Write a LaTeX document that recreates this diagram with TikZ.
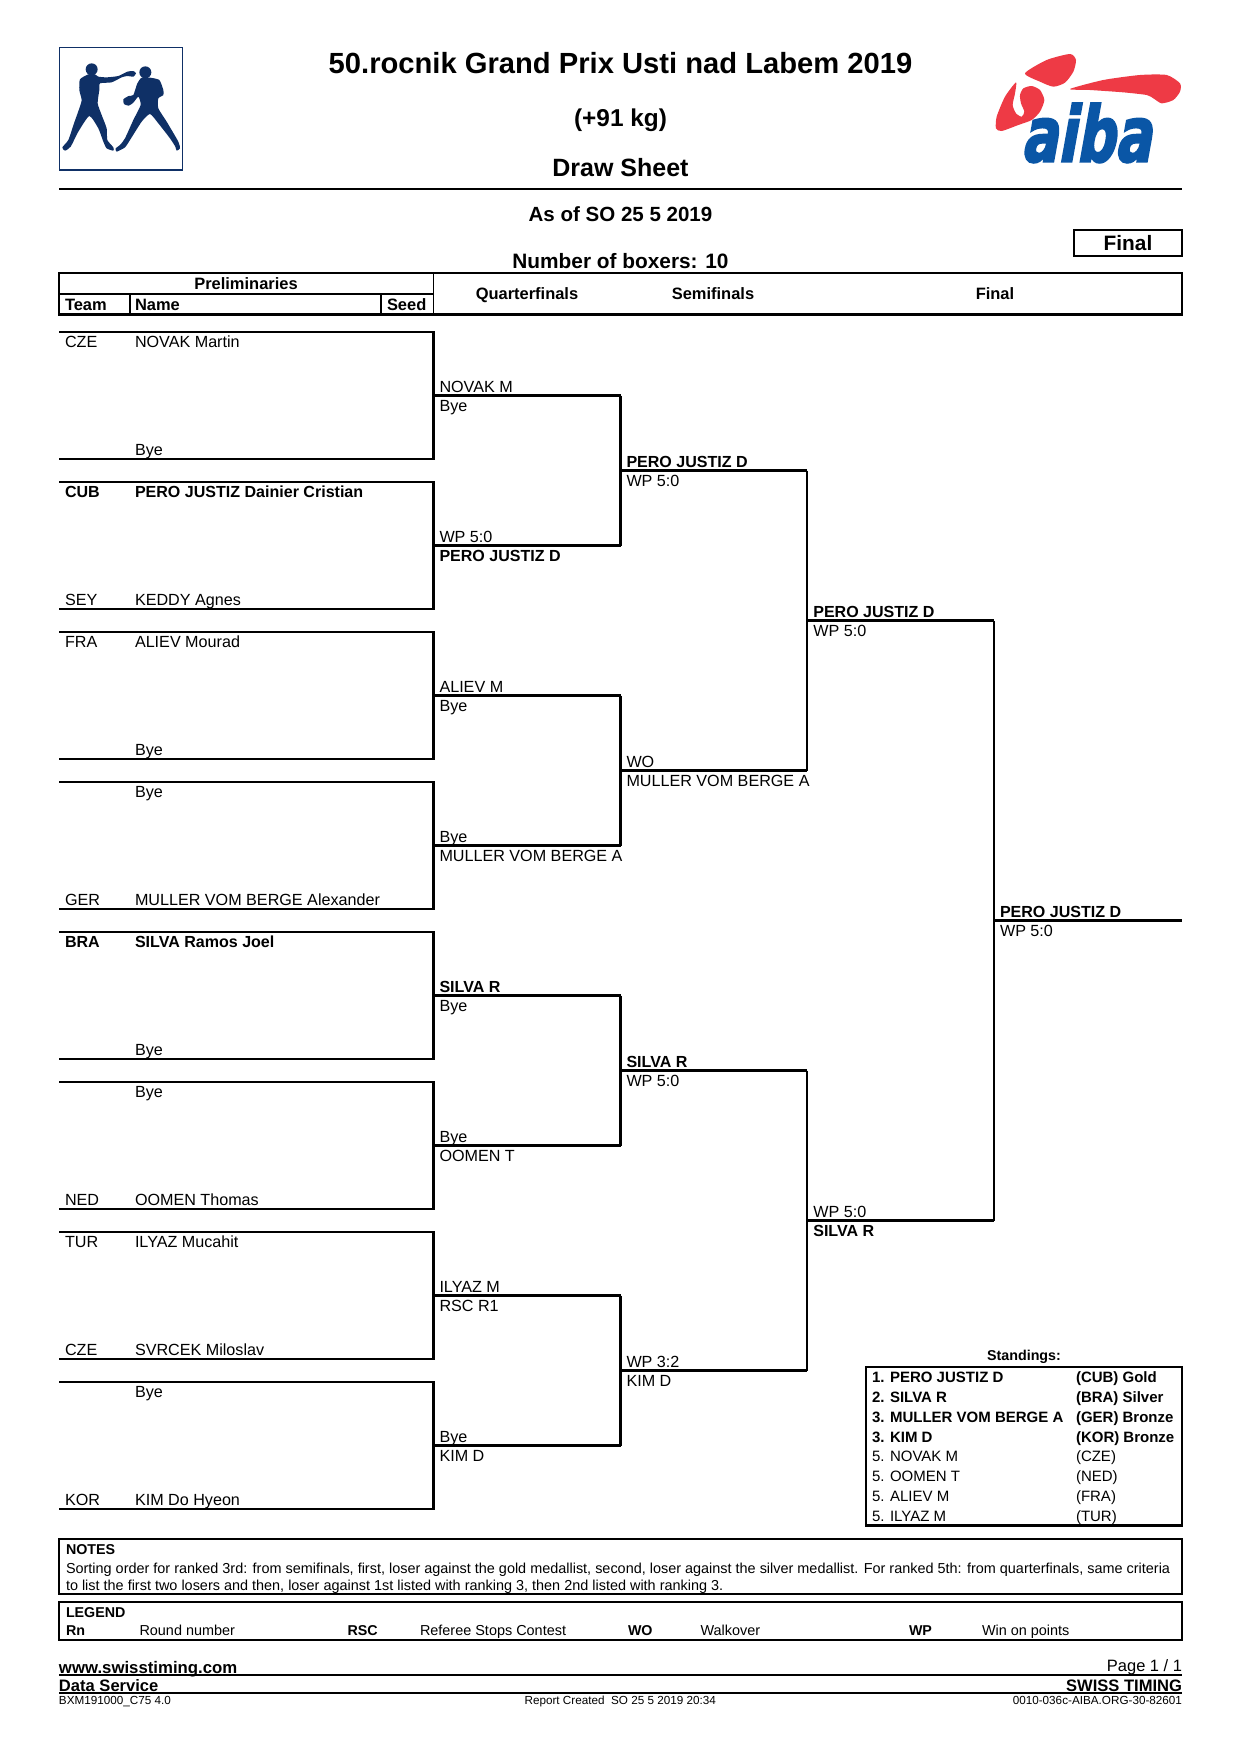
\documentclass[tikz,border=0pt]{standalone}
\usepackage{fontspec}
\setmainfont{Liberation Sans}
\newfontfamily\aibafont[FakeSlant=0.18,FakeStretch=0.70,FakeBold=2.5]{DejaVu Sans}
\usetikzlibrary{positioning}
\definecolor{navy}{HTML}{0F3066}
\definecolor{aibared}{HTML}{EE3A45}
\definecolor{aibablue}{HTML}{0A56A6}
\tikzset{
  lab/.style={inner sep=0pt,outer sep=0pt,anchor=base west,font=\fontsize{7.75}{9}\selectfont},
  labb/.style={lab,font=\fontsize{7.7}{9}\selectfont\bfseries},
  hdr/.style={inner sep=0pt,outer sep=0pt,anchor=base,font=\fontsize{7.9}{10}\selectfont\bfseries},
  hdl/.style={hdr,anchor=base west},
  ttl/.style={inner sep=0pt,outer sep=0pt,anchor=base,font=\fontsize{14}{16}\selectfont\bfseries},
  sub/.style={inner sep=0pt,outer sep=0pt,anchor=base,font=\fontsize{11}{13}\selectfont\bfseries},
  sml/.style={lab,font=\fontsize{6.93}{8}\selectfont},
  smb/.style={lab,font=\fontsize{6.85}{8}\selectfont\bfseries},
  tin/.style={lab,font=\fontsize{5.62}{7}\selectfont},
  bracket/.style={draw=black,line width=1pt,line join=miter},
  frame/.style={draw=black,line width=1.1pt},
  thin/.style={draw=black,line width=0.8pt},
}
\begin{document}
\begin{tikzpicture}[x=0.48pt,y=-0.48pt]
\useasboundingbox (0,0) rectangle (1240,1754);
\fill[white] (0,0) rectangle (1240,1754);

% logo, boxers
\begin{scope}[shift={(50,40)},x=0.16pt,y=-0.16pt]
  \draw[draw=navy,line width=0.6pt] (28,22) rectangle (397,390);
  \fill[navy] (125,88) circle[radius=18];
  \fill[navy] (286,97) circle[radius=18];
  \fill[navy,line join=round] plot[smooth cycle,tension=0.35] coordinates {
    (115,103) (90,118) (88,150) (95,180) (88,205) (72,250) (55,300) (37,322) (45,332)
    (62,320) (85,275) (118,228) (145,265) (160,305) (170,325) (190,332) (190,322)
    (172,300) (170,265) (155,225) (143,190) (148,150) (150,130) (185,127) (215,112)
    (232,108) (250,110) (258,100) (250,93) (232,95) (205,108) (170,112) (145,110) (135,103)};
  \fill[navy] plot[smooth cycle,tension=0.35] coordinates {
    (275,113) (262,130) (250,165) (236,168) (220,178) (222,192) (236,197) (250,188) (265,170)
    (272,195) (250,240) (225,295) (210,315) (197,325) (200,335) (225,322) (240,300)
    (275,245) (300,222) (325,250) (360,295) (376,320) (380,332) (390,325) (385,305)
    (350,245) (325,205) (325,175) (340,165) (340,150) (328,120) (300,113)};
\end{scope}

% logo, aiba
\begin{scope}[shift={(990,45)},x=0.16pt,y=-0.16pt]
  \fill[aibared] plot[smooth cycle,tension=0.4] coordinates {
    (105,85) (170,45) (240,27) (258,45) (250,80) (225,113) (190,125) (150,110)};
  \fill[aibared] plot[smooth cycle,tension=0.4] coordinates {
    (240,132) (340,105) (450,90) (530,90) (570,115) (570,140) (550,165) (515,175)
    (490,160) (470,150) (400,142) (300,135)};
  \fill[aibared] plot[smooth cycle,tension=0.4] coordinates {
    (78,112) (45,155) (20,215) (18,250) (35,258) (85,240) (125,225) (150,200) (163,165)
    (150,135) (125,123) (100,130) (90,150) (93,175) (103,200) (95,215) (78,205) (68,180) (75,145)};
  \node[inner sep=0pt,anchor=base west,text=aibablue,font=\aibafont\bfseries\fontsize{37}{40}\selectfont] (aiba) at (92,350) {aiba};
\end{scope}

% heading
\node[ttl] (title) at (620.5,73.5) {50.rocnik Grand Prix Usti nad Labem 2019};
\node[sub,font=\fontsize{11.7}{13}\selectfont\bfseries] (weight) at (620.5,126.5) {(+91 kg)};
\node[sub,font=\fontsize{12}{14}\selectfont\bfseries] (sheet) at (620.5,176.5) {Draw Sheet};
\coordinate (hl) at (59,189); \coordinate (hr) at (1182,189);
\draw[line width=0.9pt] (hl) -- (hr);
\node[sub,font=\fontsize{9.85}{12}\selectfont\bfseries] (asof) at (620.5,221) {As of SO 25 5 2019};
\node[sub,font=\fontsize{10}{12}\selectfont\bfseries] (number) at (620.5,268.5) {Number of boxers: 10};
\node[sub,font=\fontsize{10}{12}\selectfont\bfseries] (finalbox) at (1128,250) {Final};
\draw[frame] (1074,230) rectangle (1182,256);

% table head
\draw[frame] (59,273.3) rectangle (1182,314.6);
\draw[thin] (59,294) -- (433.5,294);
\draw[thin] (130,294) -- (130,314.6);
\draw[thin] (381,294) -- (381,314.6);
\draw[thin] (433.5,273.3) -- (433.5,314.6);
\node[hdr] (hprelim) at (246,289) {Preliminaries};
\node[hdl] (hteam) at (65,310) {Team};
\node[hdl] (hname) at (135,310) {Name};
\node[hdl] (hseed) at (387,310) {Seed};
\node[hdr] (hqf) at (527,299) {Quarterfinals};
\node[hdr] (hsf) at (713,299) {Semifinals};
\node[hdr] (hf) at (995,299) {Final};

% named points of the bracket
\foreach \i in {1,...,8} {
  \pgfmathsetmacro\yy{332+(\i-1)*150}
  \pgfmathsetmacro\yb{\yy+127}
  \pgfmathsetmacro\ym{\yy+63.5}
  \coordinate (pa\i) at (59,\yy);
  \coordinate (pb\i) at (59,\yb);
  \coordinate (xa\i) at (433.5,\yy);
  \coordinate (xb\i) at (433.5,\yb);
  \coordinate (qs\i) at (433.5,\ym);
  \coordinate (qe\i) at (620.5,\ym);
  \draw[bracket] (pa\i) -- (xa\i) -- (xb\i) -- (pb\i);
  \draw[bracket] (qs\i) -- (qe\i);
}
\foreach \i/\y in {1/470.5,2/770.5,3/1070.5,4/1370.5} {
  \coordinate (ss\i) at (620.5,\y);
  \coordinate (se\i) at (807.3,\y);
  \draw[bracket] (ss\i) -- (se\i);
}
\draw[bracket] (qe1) -- (qe2);
\draw[bracket] (qe3) -- (qe4);
\draw[bracket] (qe5) -- (qe6);
\draw[bracket] (qe7) -- (qe8);
\coordinate (fs1) at (807.3,620.5); \coordinate (fe1) at (994,620.5);
\coordinate (fs2) at (807.3,1220.5);  \coordinate (fe2) at (994,1220.5);
\draw[bracket] (fs1) -- (fe1);
\draw[bracket] (fs2) -- (fe2);
\draw[bracket] (se1) -- (se2);
\draw[bracket] (se3) -- (se4);
\draw[bracket] (fe1) -- (fe2);
\coordinate (cs) at (994,920.5); \coordinate (ce) at (1182,920.5);
\draw[bracket] (cs) -- (ce);

% preliminaries
\node[lab]  (t1a) at ([shift={(6,15.5)}]pa1) {CZE};
\node[lab]  (n1a) at ([shift={(76,15.5)}]pa1) {NOVAK Martin};
\node[lab]  (n1b) at ([shift={(76,-3.5)}]pb1) {Bye};
\node[labb] (t2a) at ([shift={(6,15.5)}]pa2) {CUB};
\node[labb] (n2a) at ([shift={(76,15.5)}]pa2) {PERO JUSTIZ Dainier Cristian};
\node[lab]  (t2b) at ([shift={(6,-3.5)}]pb2) {SEY};
\node[lab]  (n2b) at ([shift={(76,-3.5)}]pb2) {KEDDY Agnes};
\node[lab]  (t3a) at ([shift={(6,15.5)}]pa3) {FRA};
\node[lab]  (n3a) at ([shift={(76,15.5)}]pa3) {ALIEV Mourad};
\node[lab]  (n3b) at ([shift={(76,-3.5)}]pb3) {Bye};
\node[lab]  (n4a) at ([shift={(76,15.5)}]pa4) {Bye};
\node[lab]  (t4b) at ([shift={(6,-3.5)}]pb4) {GER};
\node[lab]  (n4b) at ([shift={(76,-3.5)}]pb4) {MULLER VOM BERGE Alexander};
\node[labb] (t5a) at ([shift={(6,15.5)}]pa5) {BRA};
\node[labb] (n5a) at ([shift={(76,15.5)}]pa5) {SILVA Ramos Joel};
\node[lab]  (n5b) at ([shift={(76,-3.5)}]pb5) {Bye};
\node[lab]  (n6a) at ([shift={(76,15.5)}]pa6) {Bye};
\node[lab]  (t6b) at ([shift={(6,-3.5)}]pb6) {NED};
\node[lab]  (n6b) at ([shift={(76,-3.5)}]pb6) {OOMEN Thomas};
\node[lab]  (t7a) at ([shift={(6,15.5)}]pa7) {TUR};
\node[lab]  (n7a) at ([shift={(76,15.5)}]pa7) {ILYAZ Mucahit};
\node[lab]  (t7b) at ([shift={(6,-3.5)}]pb7) {CZE};
\node[lab]  (n7b) at ([shift={(76,-3.5)}]pb7) {SVRCEK Miloslav};
\node[lab]  (n8a) at ([shift={(76,15.5)}]pa8) {Bye};
\node[lab]  (t8b) at ([shift={(6,-3.5)}]pb8) {KOR};
\node[lab]  (n8b) at ([shift={(76,-3.5)}]pb8) {KIM Do Hyeon};

% quarterfinals
\node[lab]  (q1a) at ([shift={(6,-3)}]qs1) {NOVAK M};
\node[lab]  (q1b) at ([shift={(6,16)}]qs1) {Bye};
\node[lab]  (q2a) at ([shift={(6,-3)}]qs2) {WP 5:0};
\node[labb] (q2b) at ([shift={(6,16)}]qs2) {PERO JUSTIZ D};
\node[lab]  (q3a) at ([shift={(6,-3)}]qs3) {ALIEV M};
\node[lab]  (q3b) at ([shift={(6,16)}]qs3) {Bye};
\node[lab]  (q4a) at ([shift={(6,-3)}]qs4) {Bye};
\node[lab]  (q4b) at ([shift={(6,16)}]qs4) {MULLER VOM BERGE A};
\node[labb] (q5a) at ([shift={(6,-3)}]qs5) {SILVA R};
\node[lab]  (q5b) at ([shift={(6,16)}]qs5) {Bye};
\node[lab]  (q6a) at ([shift={(6,-3)}]qs6) {Bye};
\node[lab]  (q6b) at ([shift={(6,16)}]qs6) {OOMEN T};
\node[lab]  (q7a) at ([shift={(6,-3)}]qs7) {ILYAZ M};
\node[lab]  (q7b) at ([shift={(6,16)}]qs7) {RSC R1};
\node[lab]  (q8a) at ([shift={(6,-3)}]qs8) {Bye};
\node[lab]  (q8b) at ([shift={(6,16)}]qs8) {KIM D};

% semifinals
\node[labb] (s1a) at ([shift={(6,-3)}]ss1) {PERO JUSTIZ D};
\node[lab]  (s1b) at ([shift={(6,16)}]ss1) {WP 5:0};
\node[lab]  (s2a) at ([shift={(6,-3)}]ss2) {WO};
\node[lab]  (s2b) at ([shift={(6,16)}]ss2) {MULLER VOM BERGE A};
\node[labb] (s3a) at ([shift={(6,-3)}]ss3) {SILVA R};
\node[lab]  (s3b) at ([shift={(6,16)}]ss3) {WP 5:0};
\node[lab]  (s4a) at ([shift={(6,-3)}]ss4) {WP 3:2};
\node[lab]  (s4b) at ([shift={(6,16)}]ss4) {KIM D};

% final
\node[labb] (f1a) at ([shift={(6,-3)}]fs1) {PERO JUSTIZ D};
\node[lab]  (f1b) at ([shift={(6,16)}]fs1) {WP 5:0};
\node[lab]  (f2a) at ([shift={(6,-3)}]fs2) {WP 5:0};
\node[labb] (f2b) at ([shift={(6,16)}]fs2) {SILVA R};
\node[labb] (c1a) at ([shift={(6,-3)}]cs) {PERO JUSTIZ D};
\node[lab]  (c1b) at ([shift={(6,16)}]cs) {WP 5:0};

% standings
\node[smb,anchor=base] (stand) at (1024,1360.5) {Standings:};
\draw[frame] (866,1367) rectangle (1182,1525.5);
\foreach \k/\y/\a/\b in {
  a/1382/1. PERO JUSTIZ D/(CUB) Gold,
  b/1402/2. SILVA R/(BRA) Silver,
  c/1422/3. MULLER VOM BERGE A/(GER) Bronze,
  d/1442/3. KIM D/(KOR) Bronze} {
  \node[lab,font=\fontsize{7.2}{9}\selectfont\bfseries] (sn\k) at (872,\y) {\a};
  \node[lab,font=\fontsize{7.2}{9}\selectfont\bfseries] (st\k) at (1076,\y) {\b};
}
\foreach \k/\y/\a/\b in {
  e/1461/5. NOVAK M/(CZE),
  f/1481/5. OOMEN T/(NED),
  g/1501/5. ALIEV M/(FRA),
  h/1521/5. ILYAZ M/(TUR)} {
  \node[lab,font=\fontsize{7.2}{9}\selectfont] (sn\k) at (872,\y) {\a};
  \node[lab,font=\fontsize{7.2}{9}\selectfont] (st\k) at (1076,\y) {\b};
}

% notes
\draw[frame] (59,1539) rectangle (1182,1594);
\node[smb] (notes) at (66,1554) {NOTES};
\node[sml] (note1) at (66,1573) {Sorting order for ranked 3rd: from semifinals, first, loser against the gold medallist, second, loser against the silver medallist. For ranked 5th: from quarterfinals, same criteria};
\node[sml] (note2) at (66,1590) {to list the first two losers and then, loser against 1st listed with ranking 3, then 2nd listed with ranking 3.};

% legend
\draw[frame] (59,1602) rectangle (1182,1640);
\node[smb] (legend) at (66,1617) {LEGEND};
\node[smb] (lrn) at (66,1635) {Rn};
\node[sml] (lrnt) at (139.5,1635) {Round number};
\node[smb] (lrsc) at (347.5,1635) {RSC};
\node[sml] (lrsct) at (420,1635) {Referee Stops Contest};
\node[smb] (lwo) at (628,1635) {WO};
\node[sml] (lwot) at (700.5,1635) {Walkover};
\node[smb] (lwp) at (909,1635) {WP};
\node[sml] (lwpt) at (982,1635) {Win on points};

% footer
\node[lab,font=\fontsize{8.05}{10}\selectfont\bfseries] (www) at (59,1673.5) {www.swisstiming.com};
\node[lab,anchor=base east,font=\fontsize{7.9}{10}\selectfont] (page) at (1182,1671.5) {Page 1 / 1};
\coordinate (f1l) at (59,1674.7); \coordinate (f1r) at (1182,1674.7);
\draw[line width=0.8pt] (f1l) -- (f1r);
\node[lab,font=\fontsize{7.95}{10}\selectfont\bfseries] (ds) at (59,1691.5) {Data Service};
\node[lab,anchor=base east,font=\fontsize{7.95}{10}\selectfont\bfseries] (swiss) at (1182,1691.5) {SWISS TIMING};
\coordinate (f2l) at (59,1693); \coordinate (f2r) at (1182,1693);
\draw[line width=0.8pt] (f2l) -- (f2r);
\node[tin] (code) at (59,1704) {BXM191000\_C75 4.0};
\node[tin] (created) at (524.6,1704) {Report Created\ \ SO 25 5 2019 20:34};
\node[tin,anchor=base east] (org) at (1182,1704) {0010-036c-AIBA.ORG-30-82601};
\end{tikzpicture}
\end{document}
